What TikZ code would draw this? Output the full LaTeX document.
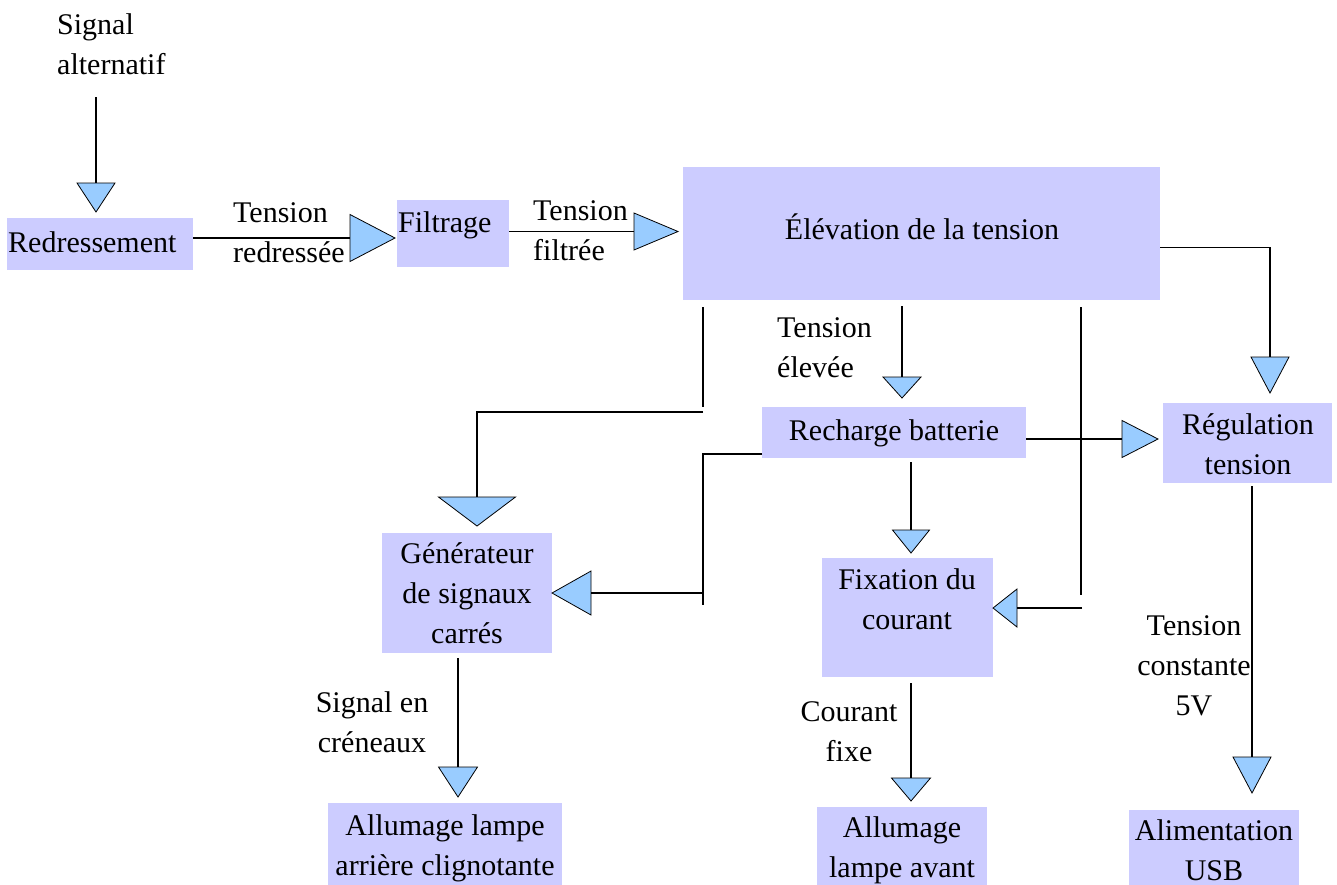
\documentclass[tikz,border=0pt]{standalone}
\usepackage{fontspec}
\setmainfont{Liberation Serif}
\definecolor{boxc}{HTML}{CCCCFF}
\definecolor{tric}{HTML}{99CCFF}
\newcommand{\triD}[5]{% name, x, ybase, halfwidth, height (points down)
  \coordinate (#1) at (#2,#3);
  \draw[trist] (#2-#4,#3) -- (#2+#4,#3) -- (#2,#3+#5) -- cycle;}
\newcommand{\triR}[5]{% name, xbase, y, halfheight, width (points right)
  \coordinate (#1) at (#2,#3);
  \draw[trist] (#2,#3-#4) -- (#2,#3+#4) -- (#2+#5,#3) -- cycle;}
\newcommand{\triL}[5]{% name, xbase, y, halfheight, width (points left)
  \coordinate (#1) at (#2,#3);
  \draw[trist] (#2,#3-#4) -- (#2,#3+#4) -- (#2-#5,#3) -- cycle;}
\begin{document}
\begin{tikzpicture}[x=1pt,y=-1pt,
  box/.style={fill=boxc, draw=none, inner sep=0pt, anchor=north west},
  txt/.style={inner sep=0pt, font=\fontsize{30}{40}\selectfont,
    execute at begin node=\strut, execute at end node=\strut},
  trist/.style={fill=tric, draw=black, line width=0.8pt, line join=miter},
  conn/.style={draw=black, line width=1.1pt},
  thickconn/.style={draw=black, line width=2.2pt}]
\useasboundingbox (0,0) rectangle (1337,884);
\fill[white] (0,0) rectangle (1337,884);

% boxes
\node[box, minimum width=186, minimum height=52] (redr) at (7,218) {};
\node[box, minimum width=112, minimum height=67] (filt) at (397,200) {};
\node[box, minimum width=477, minimum height=133] (elev) at (683,167) {};
\node[box, minimum width=264, minimum height=51] (rech) at (762,407) {};
\node[box, minimum width=169, minimum height=80] (regu) at (1163,403) {};
\node[box, minimum width=170, minimum height=120] (gene) at (382,533) {};
\node[box, minimum width=171, minimum height=119] (fixa) at (822,558) {};
\node[box, minimum width=234, minimum height=87] (allar) at (328,803) {};
\node[box, minimum width=170, minimum height=83] (allav) at (817,807) {};
\node[box, minimum width=170, minimum height=80] (alim) at (1129,810) {};

% box texts
\node[txt, anchor=west] (redrT) at (8,244) {Redressement};
\node[txt, anchor=west] (filtT) at (398,224) {Filtrage};
\node[txt] (elevT) at (922,231) {Élévation de la tension};
\node[txt] (rechT) at (894,432) {Recharge batterie};
\node[txt, align=center] (reguT) at (1248,450) {Régulation\\tension};
\node[txt, align=center] (geneT) at (467,599) {Générateur\\de signaux\\carrés};
\node[txt, align=center] (fixaT) at (907,605) {Fixation du\\courant};
\node[txt, align=center] (allarT) at (445,851) {Allumage lampe\\arrière clignotante};
\node[txt, align=center] (allavT) at (902,853) {Allumage\\lampe avant};
\node[txt, align=center] (alimT) at (1214,856) {Alimentation\\USB};

% connector labels
\node[txt, anchor=west, align=left] (sigalt) at (57,50) {Signal\\alternatif};
\node[txt, anchor=west, align=left] (lab1) at (233,239) {Tension\\redressée};
\node[txt, anchor=west, align=left] (lab2) at (533,237) {Tension\\filtrée};
\node[txt, anchor=west, align=left] (lab3) at (777,354) {Tension\\élevée};
\node[txt, align=center] (lab4) at (372,728) {Signal en\\créneaux};
\node[txt, align=center] (lab5) at (849,738) {Courant\\fixe};
\node[txt, align=center] (lab6) at (1194,672) {Tension\\constante\\5V};

% free ends of connectors
\coordinate (s0) at (96,97);
\coordinate (a1) at (703,307);
\coordinate (a2) at (703,407);
\coordinate (a3) at (703,412);
\coordinate (b1) at (902,306);
\coordinate (c1) at (1081,307);
\coordinate (c2) at (1081,595);
\coordinate (c3) at (1082,608);
\coordinate (d1) at (703,454);
\coordinate (d2) at (703,605);
\coordinate (d3) at (703,593);
\coordinate (e1) at (911,462);
\coordinate (f1) at (1252,486);
\coordinate (g1) at (458,658);
\coordinate (h1) at (911,683);

% arrow triangles
\triD{t0}{96}{183}{19}{29}
\triR{t1}{350}{238}{23.5}{45}
\triR{t2}{634}{231.5}{18.5}{44}
\triD{t3}{1270}{357}{19}{36}
\triD{t4}{477}{497}{38.5}{29}
\triD{t5}{902}{377}{19}{21}
\triL{t6}{1017}{608}{19}{24}
\triR{t7}{1122}{439}{18.5}{36}
\triL{t8}{591}{593}{22}{39}
\triD{t9}{911}{530}{18.5}{23}
\triD{t10}{1252}{757}{19}{36}
\triD{t11}{458}{767}{19.5}{30}
\triD{t12}{911}{778}{19.5}{23}

% connectors
\draw[conn] (s0) -- (t0);
\draw[conn] (redr.east |- t1) -- (t1);
\draw[conn] (filt.east |- t2) -- (t2);
\draw[conn] ([yshift=-13.5pt]elev.east) -| (t3);
\draw[conn] (a1) -- (a2);
\draw[conn] (a3) -| (t4);
\draw[conn] (b1) -- (t5);
\draw[conn] (c1) -- (c2);
\draw[thickconn] (c3) -- (t6);
\draw[conn] (rech.east |- t7) -- (t7);
\draw[conn] (rech.west |- d1) -- (d1) -- (d2);
\draw[thickconn] (d3) -- (t8);
\draw[conn] (e1) -- (t9);
\draw[conn] (f1) -- (t10);
\draw[conn] (g1) -- (t11);
\draw[conn] (h1) -- (t12);
\end{tikzpicture}
\end{document}
